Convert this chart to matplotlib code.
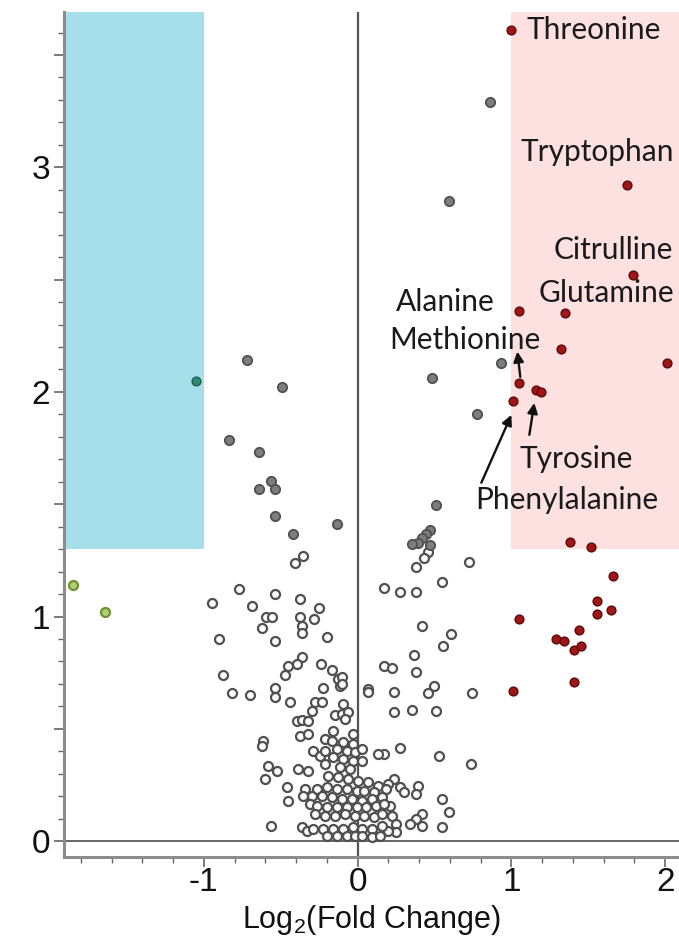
import matplotlib
matplotlib.use('Agg')
import matplotlib.pyplot as plt
from matplotlib.patches import Rectangle
from matplotlib.ticker import MultipleLocator, FuncFormatter

plt.rcParams['font.family'] = ['Liberation Sans', 'DejaVu Sans']
plt.rcParams['axes.unicode_minus'] = False

# limiares
fc_cut = 1.0
p_cut = 1.3

# pontos nao significativos (circulos abertos)
ns_x = [-0.357, -0.409, -0.773, -0.539, -0.948, -0.688, -0.377, -0.253, -0.286, -0.597,
        -0.558, -0.623, -0.377, -0.364, -0.364, -0.903, -0.539, -0.201, -0.364, -0.396,
        -0.455, -0.474, -0.240, -0.169, -0.130, -0.877, -0.539, -0.227, -0.117, -0.818,
        -0.701, -0.539, -0.442, -0.279, -0.234, -0.299, -0.396, -0.364, -0.325, -0.617,
        -0.623, -0.377, -0.325, -0.292, -0.247, -0.584, -0.526, -0.604, -0.390, -0.325,
        -0.461, -0.344, -0.299, -0.455, -0.312, -0.565, -0.364, -0.331,
        0.455, 0.435, 0.383, 0.727, 0.552, 0.175, 0.279, 0.383, 0.422, 0.610,
        0.558, 0.370, 0.175, 0.221, 0.383, 0.494, 0.461, 0.071, 0.240, 0.747,
        -0.104, -0.104, 0.240, 0.357, 0.513, 0.273, 0.532, 0.740, 0.175, 0.240,
        0.195, 0.273, 0.305, 0.390, 0.383, 0.552, 0.597, 0.208, 0.221, 0.253,
        0.416, 0.383, 0.338, 0.422, 0.552, 0.253, 0.195,
        0.065, -0.097, -0.149, -0.104, -0.065, -0.084, -0.162, -0.032, -0.214, -0.169,
        -0.097, -0.032, -0.214, -0.136, -0.071, -0.019, 0.032, 0.130, -0.162, -0.097,
        -0.032, 0.032, -0.214, -0.117, -0.052, -0.195, -0.130, -0.065, 0.000, 0.065,
        0.130, 0.188, -0.266, -0.201, -0.136, -0.071, -0.006, 0.045, 0.110, -0.357,
        -0.234, -0.169, -0.104, -0.039, 0.026, 0.091, 0.156, -0.266, -0.201, -0.136,
        -0.071, -0.006, 0.058, 0.123, 0.175, -0.279, -0.214, -0.149, -0.084, -0.019,
        0.045, 0.110, 0.162, -0.292, -0.227, -0.162, -0.097, -0.032, 0.026, 0.091,
        0.156, -0.201, -0.136, -0.071, -0.019, 0.032, 0.091, 0.143]
ns_y = [1.271, 1.240, 1.124, 1.102, 1.062, 1.049, 1.076, 1.040, 0.991, 1.000,
        1.000, 0.947, 0.996, 0.956, 0.929, 0.902, 0.893, 0.907, 0.818, 0.787,
        0.782, 0.738, 0.787, 0.764, 0.724, 0.742, 0.684, 0.684, 0.689, 0.658,
        0.649, 0.644, 0.618, 0.618, 0.618, 0.578, 0.533, 0.538, 0.533, 0.444,
        0.422, 0.467, 0.476, 0.400, 0.378, 0.333, 0.311, 0.276, 0.320, 0.311,
        0.240, 0.231, 0.200, 0.178, 0.164, 0.067, 0.062, 0.044,
        1.289, 1.262, 1.222, 1.244, 1.156, 1.129, 1.111, 1.111, 0.960, 0.924,
        0.867, 0.831, 0.782, 0.773, 0.751, 0.689, 0.658, 0.676, 0.662, 0.658,
        0.729, 0.698, 0.573, 0.582, 0.578, 0.413, 0.378, 0.342, 0.387, 0.276,
        0.253, 0.240, 0.218, 0.244, 0.209, 0.187, 0.129, 0.156, 0.111, 0.076,
        0.120, 0.098, 0.076, 0.067, 0.062, 0.040, 0.044,
        0.662, 0.609, 0.560, 0.564, 0.573, 0.542, 0.489, 0.476, 0.453, 0.444,
        0.440, 0.431, 0.400, 0.409, 0.400, 0.396, 0.409, 0.387, 0.373, 0.364,
        0.356, 0.356, 0.342, 0.329, 0.320, 0.289, 0.284, 0.276, 0.267, 0.262,
        0.244, 0.231, 0.231, 0.240, 0.231, 0.231, 0.222, 0.222, 0.218, 0.200,
        0.200, 0.196, 0.187, 0.187, 0.178, 0.187, 0.196, 0.156, 0.151, 0.151,
        0.151, 0.151, 0.151, 0.156, 0.164, 0.120, 0.111, 0.111, 0.120, 0.111,
        0.111, 0.107, 0.120, 0.053, 0.053, 0.053, 0.053, 0.062, 0.053, 0.053,
        0.067, 0.022, 0.022, 0.022, 0.022, 0.022, 0.018, 0.022]

# significativos (p) com fold change pequeno
sig_x = [0.864, 0.597, -0.721, -0.494, 0.487, 0.935, 0.779, -0.838, -0.643, -0.643,
         -0.565, -0.539, -0.539, -0.422, -0.136, 0.513, 0.468, 0.448, 0.422, 0.390,
         0.357, 0.474]
sig_y = [3.293, 2.849, 2.142, 2.022, 2.062, 2.129, 1.902, 1.787, 1.733, 1.569,
         1.604, 1.569, 1.449, 1.369, 1.413, 1.498, 1.387, 1.369, 1.351, 1.329,
         1.324, 1.320]

# aumentados (log2 FC > 1)
up_x = [1.00, 1.75, 1.79, 1.05, 1.35, 1.32, 2.01, 1.05, 1.16, 1.19, 1.01,
        1.38, 1.52, 1.66, 1.56, 1.56, 1.65, 1.05, 1.44, 1.29, 1.34, 1.41, 1.45,
        1.41, 1.01]
up_y = [3.61, 2.92, 2.52, 2.36, 2.35, 2.19, 2.13, 2.04, 2.01, 2.00, 1.96,
        1.33, 1.31, 1.18, 1.07, 1.01, 1.03, 0.99, 0.94, 0.90, 0.89, 0.85, 0.87,
        0.71, 0.67]

# diminuidos (log2 FC < -1)
down_sig_x = [-1.05]
down_sig_y = [2.05]
down_x = [-1.85, -1.64]
down_y = [1.14, 1.02]

# rotulos: (texto, x, y, alinhamento)
labels = [('Threonine', 1.097, 3.61, 'left'),
          ('Tryptophan', 1.56, 3.07, 'center'),
          ('Citrulline', 1.66, 2.63, 'center'),
          ('Glutamine', 1.62, 2.44, 'center'),
          ('Alanine', 0.571, 2.40, 'center'),
          ('Methionine', 0.70, 2.23, 'center'),
          ('Tyrosine', 1.42, 1.70, 'center'),
          ('Phenylalanine', 1.36, 1.52, 'center')]
# setas: (cauda, ponta)
arrows = [((1.058, 2.067), (1.039, 2.18)),
          ((1.117, 1.809), (1.149, 1.951)),
          ((0.805, 1.596), (1.000, 1.898))]

xmin, xmax = -1.91, 2.09
ymin, ymax = -0.07, 3.69

fig = plt.figure(figsize=(6.79, 9.5), dpi=100)
ax = fig.add_axes([0.094, 0.098, 0.906, 0.889])

ax.add_patch(Rectangle((xmin, p_cut), -fc_cut - xmin, ymax - p_cut,
                       facecolor='#a6dfe9', edgecolor='none', zorder=0))
ax.add_patch(Rectangle((fc_cut, p_cut), xmax - fc_cut, ymax - p_cut,
                       facecolor='#fde1e1', edgecolor='none', zorder=0))

ax.axvline(0, color='#555555', lw=1.6, zorder=1)
ax.axhline(0, color='#666666', lw=1.4, zorder=1)

ax.scatter(ns_x, ns_y, s=42, facecolors='white', edgecolors='#505050',
           linewidths=1.6, zorder=3)
ax.scatter(sig_x, sig_y, s=45, facecolors='#7d7d7d', edgecolors='#505050',
           linewidths=1.3, zorder=3)
ax.scatter(up_x, up_y, s=40, facecolors='#a01515', edgecolors='#5c0a0a',
           linewidths=1.0, zorder=4)
ax.scatter(down_sig_x, down_sig_y, s=40, facecolors='#2f8a72', edgecolors='#1f5f50',
           linewidths=1.0, zorder=4)
ax.scatter(down_x, down_y, s=42, facecolors='#b5cf7a', edgecolors='#6e9430',
           linewidths=1.6, zorder=4)

for txt, lx, ly, ha in labels:
    ax.text(lx, ly, txt, ha=ha, va='center', fontsize=21.5, color='#1a1a1a',
            family=['Lato', 'DejaVu Sans'], zorder=5)
for tail, head in arrows:
    ax.annotate('', xy=head, xytext=tail,
                arrowprops=dict(arrowstyle='-|>', color='#111111', lw=1.7,
                                mutation_scale=15, shrinkA=0, shrinkB=0), zorder=5)

ax.set_xlim(xmin, xmax)
ax.set_ylim(ymin, ymax)

int_only = FuncFormatter(lambda v, pos: '%d' % round(v) if abs(v - round(v)) < 1e-6 else '')
ax.xaxis.set_major_locator(MultipleLocator(1))
ax.xaxis.set_minor_locator(MultipleLocator(0.2))
ax.yaxis.set_major_locator(MultipleLocator(0.5))
ax.yaxis.set_minor_locator(MultipleLocator(0.1))
ax.yaxis.set_major_formatter(int_only)

for sp in ['top', 'right']:
    ax.spines[sp].set_visible(False)
for sp in ['left', 'bottom']:
    ax.spines[sp].set_color('#8c8c8c')
    ax.spines[sp].set_linewidth(2.2)

ax.tick_params(axis='both', which='major', direction='out', length=7, width=1.2,
               color='#666666', labelsize=24, pad=3, labelcolor='#111111')
ax.tick_params(axis='x', which='major', pad=0)
ax.tick_params(axis='both', which='minor', direction='out', length=4, width=1.0,
               color='#666666')

ax.set_xlabel(r'$\mathregular{Log_2}$(Fold Change)', fontsize=22, labelpad=4,
              color='#111111')

fig.savefig('out.png', dpi=100)
